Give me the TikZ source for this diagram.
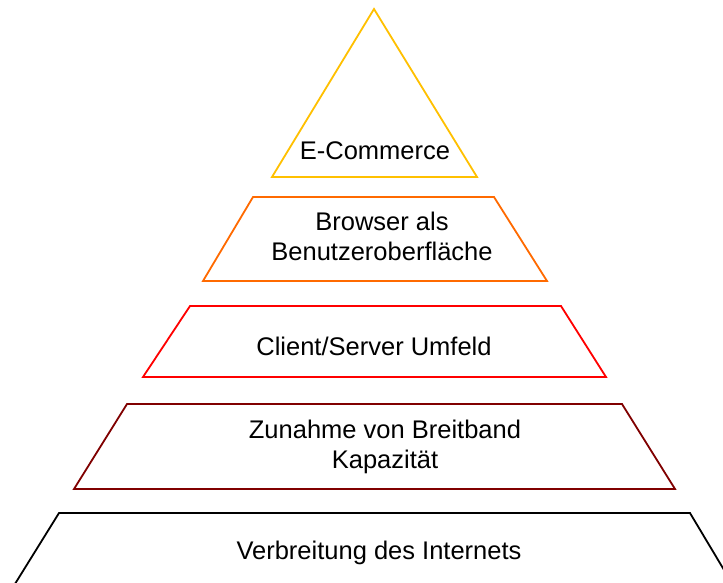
\documentclass[tikz,border=0pt]{standalone}
\usepackage{fontspec}
\newfontfamily\labelfont{Liberation Sans}
\definecolor{levelgold}{HTML}{FFC000}
\definecolor{levelorange}{HTML}{FF6A00}
\definecolor{levelred}{HTML}{FF0000}
\definecolor{leveldarkred}{HTML}{800000}
\begin{document}
\begin{tikzpicture}[x=1pt,y=-1pt,
  layer/.style={line width=1.8pt,line join=miter},
  lbl/.style={font=\labelfont\fontsize{25.5}{30}\selectfont,text=black,inner sep=0pt,align=center,anchor=base}]
\useasboundingbox (0,0) rectangle (723,582);
\fill[white] (0,0) rectangle (723,582);
\begin{scope}
\clip (0,0) rectangle (723,582);
% apex
\draw[layer,levelgold] (374,9) -- (477,177) -- (272,177) -- cycle;
% level 4
\draw[layer,levelorange] (253,197) -- (494,197) -- (547,281) -- (203,281) -- cycle;
% level 3
\draw[layer,levelred] (190,306) -- (561,306) -- (606,377) -- (143,377) -- cycle;
% level 2
\draw[layer,leveldarkred] (127,404) -- (622,404) -- (675,489) -- (74,489) -- cycle;
% base level, running past the lower edge
\draw[layer,black] (5,600) -- (59,513) -- (690,513) -- (742,600);
\end{scope}
% labels, placed by the baseline of their last line
\node[lbl] (ecom) at (375,159) {E-Commerce};
\node[lbl] (browser) at (382,260) {Browser als\\Benutzeroberfläche};
\node[lbl] (client) at (374,355) {Client/Server Umfeld};
\node[lbl] (breit) at (385,468) {Zunahme von Breitband\\Kapazität};
\node[lbl] (inet) at (379,559) {Verbreitung des Internets};
\end{tikzpicture}
\end{document}
